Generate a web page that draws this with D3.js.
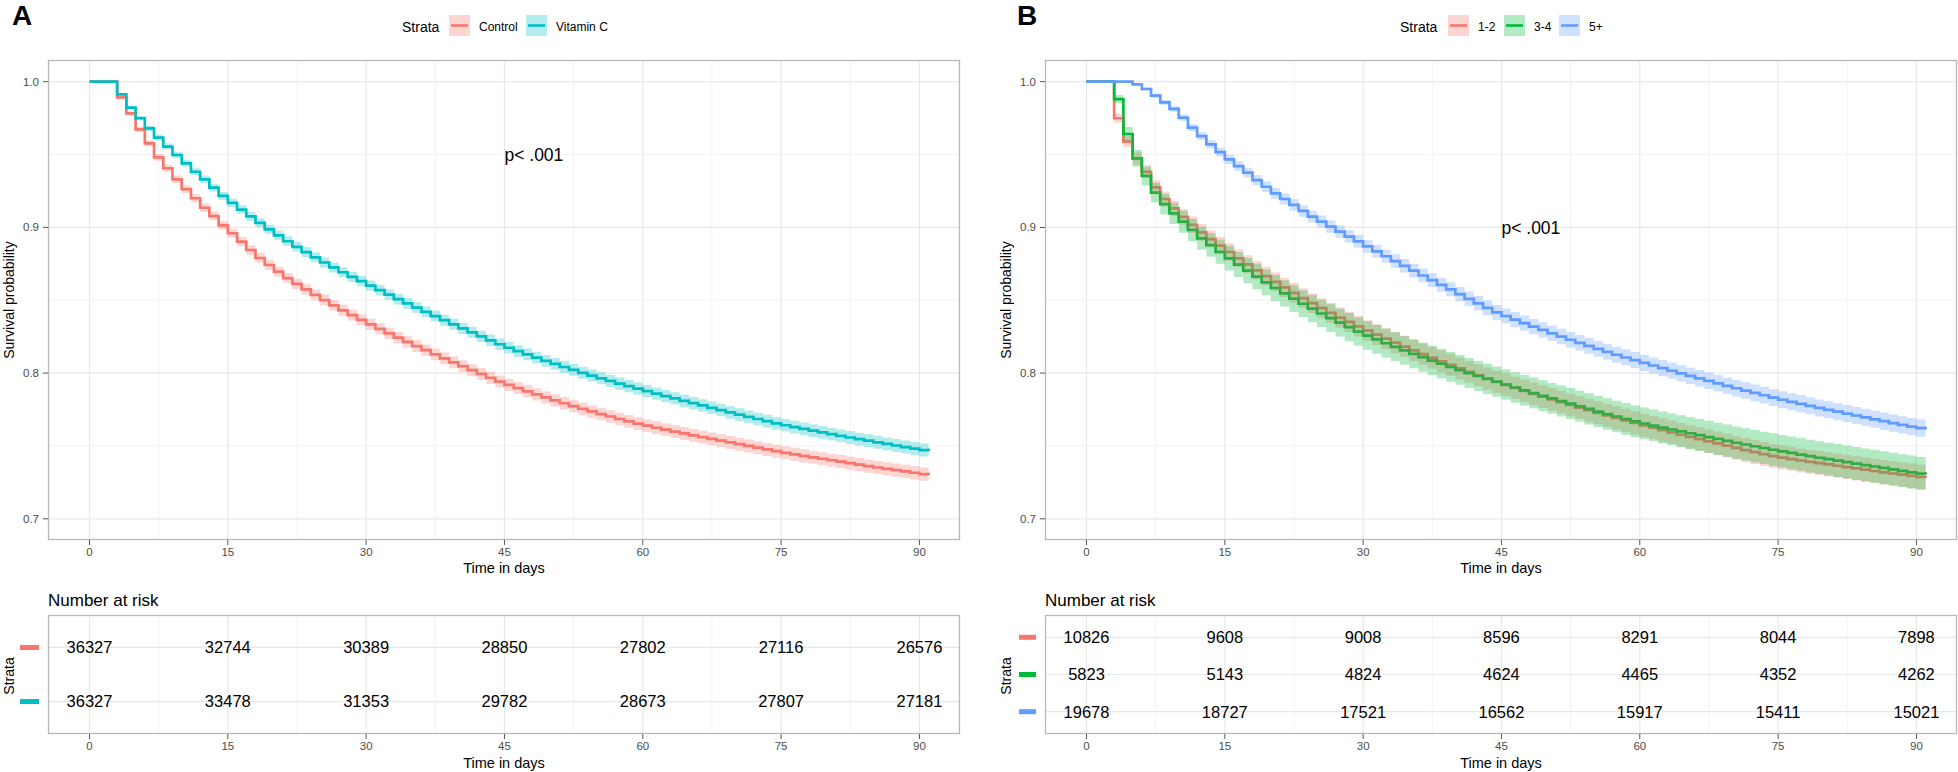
<!DOCTYPE html>
<html><head><meta charset="utf-8">
<script src="https://cdn.jsdelivr.net/npm/d3@7/dist/d3.min.js"></script>
<style>body{margin:0;background:#fff} text{font-family:"Liberation Sans",Arial,sans-serif}</style>
</head><body><svg id="c" width="1958" height="772" xmlns="http://www.w3.org/2000/svg"></svg>
<script>
// ---------------- DATA ----------------
const days = [0,1,2,3,4,5,6,7,8,9,10,11,12,13,14,15,16,17,18,19,20,21,22,23,24,25,26,27,28,29,30,31,32,33,34,35,36,37,38,39,40,41,42,43,44,45,46,47,48,49,50,51,52,53,54,55,56,57,58,59,60,61,62,63,64,65,66,67,68,69,70,71,72,73,74,75,76,77,78,79,80,81,82,83,84,85,86,87,88,89,90,91];

const survControl = [1,1,1,0.9893,0.9783,0.9673,0.9577,0.9481,0.9406,0.9330,0.9262,0.9200,0.9135,0.9078,0.9014,
0.8960,0.8902,0.8845,0.8790,0.8742,0.8696,0.8652,0.8612,0.8574,0.8537,0.8501,0.8465,0.8431,0.8398,0.8365,
0.8334,0.8303,0.8273,0.8243,0.8214,0.8185,0.8157,0.8129,0.8101,0.8074,0.8047,0.8020,0.7994,0.7968,0.7942,
0.7919,0.7897,0.7875,0.7854,0.7833,0.7813,0.7793,0.7774,0.7755,0.7737,0.7719,0.7702,0.7685,0.7669,0.7653,
0.7639,0.7625,0.7612,0.7599,0.7586,0.7573,0.7560,0.7548,0.7536,0.7524,0.7512,0.7500,0.7488,0.7476,0.7464,
0.7453,0.7442,0.7432,0.7422,0.7412,0.7402,0.7392,0.7382,0.7372,0.7362,0.7352,0.7343,0.7334,0.7325,0.7316,
0.7307,0.7299];

const survVitC = [1,1,1,0.9913,0.9822,0.9749,0.9680,0.9616,0.9554,0.9497,0.9440,0.9382,0.9330,0.9273,0.9216,
0.9168,0.9122,0.9076,0.9031,0.8987,0.8945,0.8905,0.8867,0.8830,0.8794,0.8759,0.8725,0.8692,0.8661,0.8631,
0.8600,0.8569,0.8538,0.8508,0.8478,0.8449,0.8420,0.8391,0.8363,0.8335,0.8307,0.8279,0.8252,0.8225,0.8198,
0.8174,0.8151,0.8128,0.8106,0.8084,0.8063,0.8042,0.8022,0.8002,0.7983,0.7964,0.7946,0.7928,0.7910,0.7893,
0.7876,0.7859,0.7842,0.7826,0.7810,0.7794,0.7778,0.7762,0.7746,0.7730,0.7715,0.7700,0.7685,0.7670,0.7655,
0.7642,0.7629,0.7617,0.7605,0.7593,0.7581,0.7569,0.7558,0.7547,0.7536,0.7525,0.7514,0.7503,0.7492,0.7482,
0.7472,0.7463];

const surv12 = [1,1,1,0.9749,0.9588,0.9474,0.9382,0.9275,0.9195,0.9130,0.9072,0.9018,0.8966,0.8920,0.8875,
0.8831,0.8788,0.8746,0.8705,0.8665,0.8626,0.8588,0.8551,0.8515,0.8480,0.8446,0.8413,0.8381,0.8351,0.8321,
0.8292,0.8264,0.8236,0.8209,0.8182,0.8156,0.8130,0.8105,0.8080,0.8056,0.8032,0.8008,0.7985,0.7962,0.7940,
0.7919,0.7898,0.7878,0.7858,0.7838,0.7819,0.7800,0.7781,0.7763,0.7745,0.7727,0.7709,0.7692,0.7675,0.7658,
0.7641,0.7625,0.7609,0.7593,0.7577,0.7562,0.7547,0.7532,0.7517,0.7502,0.7487,0.7472,0.7458,0.7444,0.7430,
0.7420,0.7410,0.7400,0.7391,0.7382,0.7373,0.7364,0.7355,0.7346,0.7337,0.7328,0.7319,0.7311,0.7303,0.7295,
0.7287,0.7282];

const surv34 = [1,1,1,0.9881,0.9641,0.9474,0.9353,0.9238,0.9160,0.9096,0.9039,0.8982,0.8925,0.8879,0.8832,
0.8788,0.8745,0.8703,0.8662,0.8622,0.8584,0.8547,0.8511,0.8476,0.8442,0.8409,0.8377,0.8346,0.8315,0.8284,
0.8257,0.8231,0.8205,0.8180,0.8156,0.8132,0.8109,0.8086,0.8064,0.8042,0.8021,0.8000,0.7980,0.7960,0.7941,
0.7921,0.7901,0.7882,0.7863,0.7844,0.7826,0.7808,0.7790,0.7772,0.7754,0.7736,0.7719,0.7702,0.7685,0.7668,
0.7654,0.7640,0.7626,0.7613,0.7600,0.7587,0.7574,0.7561,0.7548,0.7535,0.7522,0.7510,0.7498,0.7486,0.7474,
0.7463,0.7452,0.7441,0.7430,0.7419,0.7409,0.7399,0.7389,0.7379,0.7369,0.7359,0.7349,0.7339,0.7329,0.7319,
0.7310,0.7305];

const surv5p = [1,1,1,1,1,0.9982,0.9950,0.9904,0.9858,0.9813,0.9753,0.9685,0.9627,0.9570,0.9517,
0.9467,0.9421,0.9376,0.9325,0.9279,0.9234,0.9195,0.9154,0.9113,0.9074,0.9040,0.9005,0.8971,0.8937,0.8904,
0.8870,0.8836,0.8802,0.8769,0.8736,0.8703,0.8670,0.8638,0.8606,0.8574,0.8542,0.8510,0.8479,0.8448,0.8417,
0.8392,0.8367,0.8343,0.8319,0.8296,0.8273,0.8251,0.8229,0.8208,0.8187,0.8166,0.8146,0.8126,0.8107,0.8089,
0.8070,0.8052,0.8034,0.8016,0.7998,0.7981,0.7964,0.7947,0.7930,0.7913,0.7896,0.7880,0.7864,0.7848,0.7832,
0.7817,0.7803,0.7789,0.7775,0.7761,0.7748,0.7735,0.7722,0.7709,0.7696,0.7683,0.7670,0.7657,0.7645,0.7633,
0.7622,0.7614];

const riskTimes = [0,15,30,45,60,75,90];
const riskControl = [36327,32744,30389,28850,27802,27116,26576];
const riskVitC    = [36327,33478,31353,29782,28673,27807,27181];
const risk12 = [10826,9608,9008,8596,8291,8044,7898];
const risk34 = [5823,5143,4824,4624,4465,4352,4262];
const risk5p = [19678,18727,17521,16562,15917,15411,15021];

const xTicks = [0,15,30,45,60,75,90];
const xMinor = [7.5,22.5,37.5,52.5,67.5,82.5];
const yTicks = [0.7,0.8,0.9,1.0];
const yMinor = [0.75,0.85,0.95];

const labelsA = ["Control","Vitamin C"];
const labelsB = ["1-2","3-4","5+"];
const colorsA = ["#F8766D","#00BFC4"];
const colorsB = ["#F8766D","#00BA38","#619CFF"];
const pValueText = "p< .001";

// ---------------- DRAW ----------------
const svg = d3.select('#c');
const xDomain = [-4.5, 94.4];
const yDomain = [0.68545, 1.01489];

function ciBand(S, n0){
  return S.map(s=>{
    if (s>=1) return [1,1];
    const se = Math.sqrt((1-s)/(s*n0));
    return [s*Math.exp(-1.96*se), Math.min(1, s*Math.exp(1.96*se))];
  });
}

function panel(o){
  const g = svg.append('g');
  const x = d3.scaleLinear().domain(xDomain).range([o.L, o.R]);
  const y = d3.scaleLinear().domain(yDomain).range([540, 60]);
  const T=60, B=540;
  g.selectAll('.mx').data(xMinor).join('line').attr('x1',d=>x(d)).attr('x2',d=>x(d)).attr('y1',T).attr('y2',B)
    .attr('stroke','#f3f3f3').attr('stroke-width',1);
  g.selectAll('.my').data(yMinor).join('line').attr('y1',d=>y(d)).attr('y2',d=>y(d)).attr('x1',o.L).attr('x2',o.R)
    .attr('stroke','#f3f3f3').attr('stroke-width',1);
  g.selectAll('.Mx').data(xTicks).join('line').attr('x1',d=>x(d)).attr('x2',d=>x(d)).attr('y1',T).attr('y2',B)
    .attr('stroke','#e8e8e8').attr('stroke-width',1.2);
  g.selectAll('.My').data(yTicks).join('line').attr('y1',d=>y(d)).attr('y2',d=>y(d)).attr('x1',o.L).attr('x2',o.R)
    .attr('stroke','#e8e8e8').attr('stroke-width',1.2);

  const line = d3.line().x((d,i)=>x(days[i])).y(d=>y(d)).curve(d3.curveStepAfter);
  const area = d3.area().x((d,i)=>x(days[i])).y0(d=>y(d[0])).y1(d=>y(d[1])).curve(d3.curveStepAfter);
  o.series.forEach((s,k)=>{
    g.append('path').datum(s).attr('d',line).attr('fill','none').attr('stroke',o.colors[k]).attr('stroke-width',2.7);
  });
  o.series.forEach((s,k)=>{
    g.append('path').datum(ciBand(s,o.n0[k])).attr('d',area).attr('fill',o.colors[k]).attr('fill-opacity',0.3).attr('stroke','none');
  });
  g.append('rect').attr('x',o.L+0.5).attr('y',T+0.5).attr('width',o.R-o.L-1).attr('height',B-T-1)
    .attr('fill','none').attr('stroke','#b8b8b8').attr('stroke-width',1.3);
  g.selectAll('.yt').data(yTicks).join('line').attr('x1',o.L-5).attr('x2',o.L).attr('y1',d=>y(d)).attr('y2',d=>y(d))
    .attr('stroke','#555').attr('stroke-width',1);
  g.selectAll('.ytl').data(yTicks).join('text').attr('x',o.L-9).attr('y',d=>y(d)+4).attr('text-anchor','end')
    .attr('font-size',11.5).attr('fill','#4d4d4d').text(d=>d.toFixed(1));
  g.selectAll('.xt').data(xTicks).join('line').attr('x1',d=>x(d)).attr('x2',d=>x(d)).attr('y1',B).attr('y2',B+5)
    .attr('stroke','#555').attr('stroke-width',1);
  g.selectAll('.xtl').data(xTicks).join('text').attr('x',d=>x(d)).attr('y',556).attr('text-anchor','middle')
    .attr('font-size',11.5).attr('fill','#4d4d4d').text(d=>d);
  g.append('text').attr('x',(o.L+o.R)/2).attr('y',573).attr('text-anchor','middle').attr('font-size',14.5).text('Time in days');
  g.append('text').attr('transform',`translate(${o.yTitleX},300) rotate(-90)`).attr('text-anchor','middle')
    .attr('font-size',14).text('Survival probability');
  g.append('text').attr('x',x(45)).attr('y',y(o.pY)).attr('dy','0.35em').attr('font-size',17.5).text(pValueText);
  g.append('text').attr('x',o.letterX).attr('y',25).attr('font-size',28).attr('font-weight','bold').text(o.letter);
  g.append('text').attr('x',o.legTitleX).attr('y',31.5).attr('font-size',14).text('Strata');
  o.labels.forEach((lab,k)=>{
    const kx = o.legKeys[k];
    g.append('rect').attr('x',kx).attr('y',15).attr('width',21).attr('height',21).attr('fill',o.colors[k]).attr('fill-opacity',0.3);
    g.append('line').attr('x1',kx+2).attr('x2',kx+19).attr('y1',25.5).attr('y2',25.5).attr('stroke',o.colors[k]).attr('stroke-width',2.6);
    g.append('text').attr('x',kx+30).attr('y',30.5).attr('font-size',12).text(lab);
  });

  // ------------- risk table -------------
  const t = svg.append('g');
  const TT=615, TB=734;
  const yr = d3.scalePoint().domain(o.labels).range([TT,TB]).padding(0.6);
  t.append('text').attr('x',o.L).attr('y',605.5).attr('font-size',17).text('Number at risk');
  t.selectAll('.tmx').data(xMinor).join('line').attr('x1',d=>x(d)).attr('x2',d=>x(d)).attr('y1',TT).attr('y2',TB)
    .attr('stroke','#f3f3f3').attr('stroke-width',1);
  t.selectAll('.tMx').data(xTicks).join('line').attr('x1',d=>x(d)).attr('x2',d=>x(d)).attr('y1',TT).attr('y2',TB)
    .attr('stroke','#e8e8e8').attr('stroke-width',1.2);
  t.selectAll('.tMy').data(o.labels).join('line').attr('y1',d=>yr(d)).attr('y2',d=>yr(d)).attr('x1',o.L).attr('x2',o.R)
    .attr('stroke','#e8e8e8').attr('stroke-width',1.2);
  t.append('rect').attr('x',o.L+0.5).attr('y',TT+0.5).attr('width',o.R-o.L-1).attr('height',TB-TT-1)
    .attr('fill','none').attr('stroke','#b8b8b8').attr('stroke-width',1.3);
  o.risk.forEach((arr,k)=>{
    t.selectAll(null).data(arr).join('text').attr('x',(d,i)=>x(riskTimes[i])).attr('y',yr(o.labels[k])).attr('dy','0.36em')
      .attr('text-anchor','middle').attr('font-size',16.5).text(d=>d);
    t.append('rect').attr('x',o.keyX).attr('y',yr(o.labels[k])-2.5).attr('width',o.keyW).attr('height',5).attr('fill',o.colors[k]);
  });
  t.selectAll('.txt').data(xTicks).join('line').attr('x1',d=>x(d)).attr('x2',d=>x(d)).attr('y1',TB).attr('y2',TB+5)
    .attr('stroke','#555').attr('stroke-width',1);
  t.selectAll('.txtl').data(xTicks).join('text').attr('x',d=>x(d)).attr('y',750).attr('text-anchor','middle')
    .attr('font-size',11.5).attr('fill','#4d4d4d').text(d=>d);
  t.append('text').attr('x',(o.L+o.R)/2).attr('y',768).attr('text-anchor','middle').attr('font-size',14.5).text('Time in days');
  t.append('text').attr('transform',`translate(${o.yTitleX},676) rotate(-90)`).attr('text-anchor','middle')
    .attr('font-size',14).text('Strata');
}

panel({L:48, R:960, letter:'A', letterX:12, yTitleX:14, pY:0.95,
  series:[survControl, survVitC], n0:[riskControl[0], riskVitC[0]], colors:colorsA, labels:labelsA,
  legTitleX:402, legKeys:[449,526], risk:[riskControl, riskVitC], keyX:20, keyW:19});
panel({L:1045, R:1957, letter:'B', letterX:1017, yTitleX:1011, pY:0.9,
  series:[surv12, surv34, surv5p], n0:[risk12[0], risk34[0], risk5p[0]], colors:colorsB, labels:labelsB,
  legTitleX:1400, legKeys:[1448,1504,1559], risk:[risk12, risk34, risk5p], keyX:1019, keyW:17});
</script></body></html>
